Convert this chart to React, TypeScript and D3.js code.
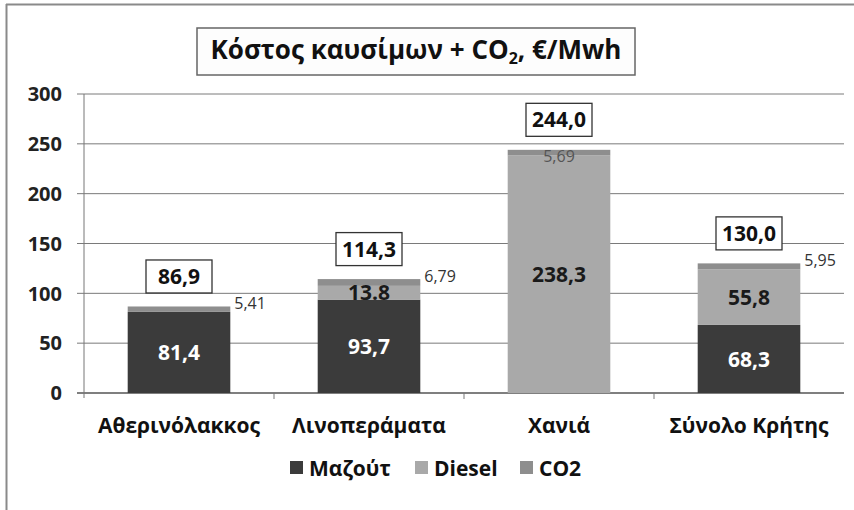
import React, { useEffect, useRef } from "react";
import * as d3 from "d3";

const categories = ["Αθερινόλακκος", "Λινοπεράματα", "Χανιά", "Σύνολο Κρήτης"];
const mazout = [81.4, 93.7, 0, 68.3];
const diesel = [0, 13.8, 238.3, 55.8];
const co2 = [5.41, 6.79, 5.69, 5.95];
const totals = ["86,9", "114,3", "244,0", "130,0"];
const seriesNames = ["Μαζούτ", "Diesel", "CO2"];
const yTicks = [0, 50, 100, 150, 200, 250, 300];

const colors = ["#3b3b3b", "#a9a9a9", "#8e8e8e"];
const FONT = "'Open Sans', 'Noto Sans', sans-serif";

const fmt = (v: number, d: number) => v.toFixed(d).replace(".", ",");

export default function App() {
  const ref = useRef<SVGSVGElement>(null);

  useEffect(() => {
    const svg = d3.select(ref.current);
    svg.selectAll("*").remove();

    const W = 854, H = 510;
    const left = 84, right = 844, top = 94, bottom = 393;

    // outer frame (top + left edges visible)
    svg.append("line").attr("x1", 6).attr("x2", W).attr("y1", 4.5).attr("y2", 4.5)
      .attr("stroke", "#8a8a8a").attr("stroke-width", 2);
    svg.append("line").attr("x1", 6.5).attr("x2", 6.5).attr("y1", 4).attr("y2", H)
      .attr("stroke", "#8a8a8a").attr("stroke-width", 2);

    const x = d3.scaleBand<string>().domain(categories).range([left, right])
      .paddingInner(0.46).paddingOuter(0.23);
    const y = d3.scaleLinear().domain([0, 300]).range([bottom, top]);

    const g = svg.append("g");

    // gridlines + y ticks
    yTicks.forEach((t) => {
      g.append("line").attr("x1", left - 7).attr("x2", right)
        .attr("y1", y(t)).attr("y2", y(t))
        .attr("stroke", t === 0 ? "#555" : "#7a7a7a").attr("stroke-width", t === 0 ? 1.5 : 1);
      g.append("text").attr("x", left - 22).attr("y", y(t)).attr("dy", "0.36em")
        .attr("text-anchor", "end").attr("font-family", FONT).attr("font-weight", 700)
        .attr("font-size", 20).attr("fill", "#222").text(t);
    });
    g.append("line").attr("x1", left).attr("x2", left).attr("y1", top).attr("y2", bottom + 5)
      .attr("stroke", "#777").attr("stroke-width", 1);
    // x category separators
    categories.forEach((c, i) => {
      if (i > 0) {
        const sx = x(c)! - x.step() * x.paddingInner() / 2;
        g.append("line").attr("x1", sx).attr("x2", sx).attr("y1", bottom).attr("y2", bottom + 6)
          .attr("stroke", "#777");
      }
    });

    // stacks
    const rows = categories.map((c, i) => ({ c, m: mazout[i], d: diesel[i], e: co2[i] }));
    const stack = d3.stack<any>().keys(["m", "d", "e"]);
    const layers = stack(rows);
    layers.forEach((layer, li) => {
      g.selectAll(null).data(layer).enter().append("rect")
        .attr("x", (d: any) => x(d.data.c)!)
        .attr("width", x.bandwidth())
        .attr("y", (d) => y(d[1]))
        .attr("height", (d) => Math.max(0, y(d[0]) - y(d[1])))
        .attr("fill", colors[li]);
    });

    // segment labels
    categories.forEach((c, i) => {
      const cx = x(c)! + x.bandwidth() / 2;
      if (mazout[i] > 0) {
        g.append("text").attr("x", cx).attr("y", y(mazout[i] / 2)).attr("dy", "0.36em")
          .attr("text-anchor", "middle").attr("font-family", FONT).attr("font-weight", 700)
          .attr("font-size", 21).attr("fill", "#fff").text(fmt(mazout[i], 1));
      }
      if (diesel[i] > 0) {
        const fmtD = i === 1 ? diesel[i].toFixed(1) : fmt(diesel[i], 1);
        g.append("text").attr("x", cx).attr("y", y(mazout[i] + diesel[i] / 2)).attr("dy", "0.36em")
          .attr("text-anchor", "middle").attr("font-family", FONT).attr("font-weight", 700)
          .attr("font-size", 21).attr("fill", "#1a1a1a").text(fmtD);
      }
      const topV = mazout[i] + diesel[i] + co2[i];
      // CO2 label
      if (mazout[i] === 0) {
        g.append("text").attr("x", cx).attr("y", y(topV) + 6).attr("dy", "0.36em")
          .attr("text-anchor", "middle").attr("font-family", FONT)
          .attr("font-size", 16).attr("fill", "#555").text(fmt(co2[i], 2));
      } else {
        g.append("text").attr("x", x(c)! + x.bandwidth() + 4).attr("y", y(topV) - 3)
          .attr("dy", "0.36em").attr("text-anchor", "start").attr("font-family", FONT)
          .attr("font-size", 16).attr("fill", "#333").text(fmt(co2[i], 2));
      }
      // total label box
      const by = y(topV) - 30;
      const bw = 66, bh = 33;
      g.append("rect").attr("x", cx - bw / 2).attr("y", by - bh / 2).attr("width", bw).attr("height", bh)
        .attr("fill", "#fff").attr("stroke", "#333").attr("stroke-width", 1.3);
      g.append("text").attr("x", cx).attr("y", by).attr("dy", "0.36em").attr("text-anchor", "middle")
        .attr("font-family", FONT).attr("font-weight", 700).attr("font-size", 21)
        .attr("fill", "#111").text(totals[i]);
      // category label
      g.append("text").attr("x", cx).attr("y", 425).attr("dy", "0.36em").attr("text-anchor", "middle")
        .attr("font-family", FONT).attr("font-weight", 700).attr("font-size", 21)
        .attr("fill", "#111").text(c);
    });

    // title
    svg.append("rect").attr("x", 197).attr("y", 28).attr("width", 438).attr("height", 47)
      .attr("fill", "#fdfdfd").attr("stroke", "#666").attr("stroke-width", 1.5);
    const tt = svg.append("text").attr("x", 416).attr("y", 50).attr("dy", "0.36em")
      .attr("text-anchor", "middle").attr("font-family", FONT).attr("font-weight", 700)
      .attr("font-size", 26).attr("fill", "#111");
    tt.append("tspan").text("Κόστος καυσίμων + CO");
    tt.append("tspan").attr("font-size", 16).attr("dy", "0.3em").text("2");
    tt.append("tspan").attr("dy", "-0.2em").text(", €/Mwh");

    // legend
    const lx = [290, 415, 520];
    seriesNames.forEach((n, i) => {
      svg.append("rect").attr("x", lx[i]).attr("y", 461).attr("width", 13).attr("height", 13)
        .attr("fill", colors[i]);
      svg.append("text").attr("x", lx[i] + 19).attr("y", 468).attr("dy", "0.36em")
        .attr("font-family", FONT).attr("font-weight", 700).attr("font-size", 21)
        .attr("fill", "#111").text(n);
    });
  }, []);

  return (
    <svg ref={ref} width={854} height={510}
      style={{ position: "absolute", left: 0, top: 0, background: "#fff" }} />
  );
}
